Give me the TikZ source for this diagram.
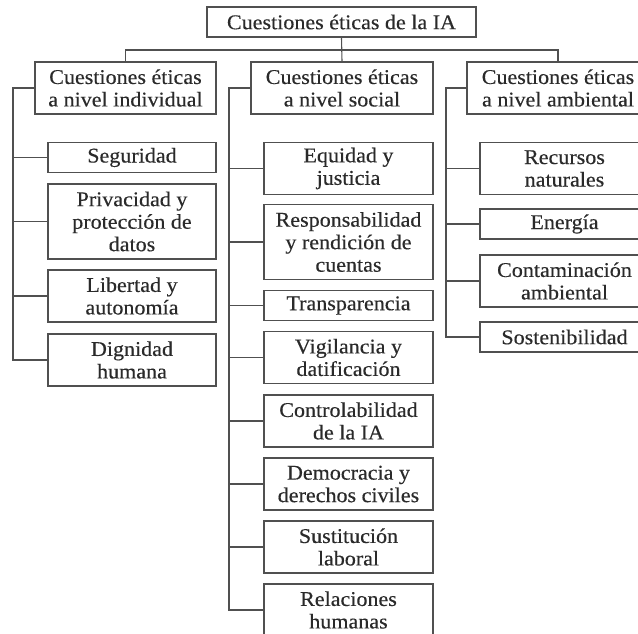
\documentclass[tikz,border=0pt]{standalone}
\usepackage{fontspec}
\setmainfont{Liberation Serif}[FakeStretch=1.05,FakeBold=0.3]

\definecolor{linea}{HTML}{505050}
\definecolor{texto}{HTML}{2A2A2A}

\tikzset{
  caja/.style={draw=linea, line width=1.1pt, fill=white, text=texto,
    align=center, inner sep=0pt, font=\fontsize{21}{22.5}\selectfont},
  una/.style={minimum height=30},
  dos/.style={minimum height=52},
  tres/.style={minimum height=75},
  rama/.style={draw=linea, line width=1.1pt},
}

\begin{document}
\begin{tikzpicture}[x=1pt,y=1pt]
  \clip (0,0) rectangle (638,-633);
  \fill[white] (0,0) rectangle (638,-633);

  % raiz
  \node[caja, una, minimum width=269] (raiz) at (341.5,-22) {Cuestiones éticas de la IA};

  % primer nivel
  \node[caja, dos, minimum width=181] (ind) at (125.5,-88) {Cuestiones éticas\\a nivel individual};
  \node[caja, dos, minimum width=182] (soc) at (342,-88) {Cuestiones éticas\\a nivel social};
  \node[caja, dos, minimum width=182] (amb) at (558,-88) {Cuestiones éticas\\a nivel ambiental};

  % nivel individual
  \begin{scope}[every node/.style={caja, minimum width=168}]
    \node[una] (seg) at (132,-157.5) {Seguridad};
    \node[tres] (pri) at (132,-221.5) {Privacidad y\\protección de\\datos};
    \node[dos] (lib) at (132,-296) {Libertad y\\autonomía};
    \node[dos] (dig) at (132,-360) {Dignidad\\humana};
  \end{scope}

  % nivel social
  \begin{scope}[every node/.style={caja, minimum width=169}]
    \node[dos] (equ) at (348.5,-168.5) {Equidad y\\justicia};
    \node[tres] (res) at (348.5,-242) {Responsabilidad\\y rendición de\\cuentas};
    \node[una] (tra) at (348.5,-305.5) {Transparencia};
    \node[dos] (vig) at (348.5,-357.5) {Vigilancia y\\datificación};
    \node[dos] (con) at (348.5,-421) {Controlabilidad\\de la IA};
    \node[dos] (dem) at (348.5,-484) {Democracia y\\derechos civiles};
    \node[dos] (sus) at (348.5,-547) {Sustitución\\laboral};
    \node[dos] (rel) at (348.5,-610) {Relaciones\\humanas};
  \end{scope}

  % nivel ambiental
  \begin{scope}[every node/.style={caja, minimum width=169}]
    \node[dos] (rec) at (564.5,-168.5) {Recursos\\naturales};
    \node[una] (ene) at (564.5,-224) {Energía};
    \node[dos] (cont) at (564.5,-281) {Contaminación\\ambiental};
    \node[una] (sos) at (564.5,-337) {Sostenibilidad};
  \end{scope}

  % conectores
  \coordinate (barra) at (0,-50);
  \draw[rama] (raiz.south) -- (soc.north);
  \draw[rama] (ind.north) |- (raiz.south |- barra) -| (amb.north);

  \coordinate (eInd) at (13,-88);
  \coordinate (eSoc) at (229,-88);
  \coordinate (eAmb) at (446,-88);

  \draw[rama] (ind.west) -- (eInd) |- (dig.west);
  \foreach \n in {seg,pri,lib}
    \draw[rama] (eInd |- \n.west) -- (\n.west);

  \draw[rama] (soc.west) -- (eSoc) |- (rel.west);
  \foreach \n in {equ,res,tra,vig,con,dem,sus}
    \draw[rama] (eSoc |- \n.west) -- (\n.west);

  \draw[rama] (amb.west) -- (eAmb) |- (sos.west);
  \foreach \n in {rec,ene,cont}
    \draw[rama] (eAmb |- \n.west) -- (\n.west);
\end{tikzpicture}
\end{document}
